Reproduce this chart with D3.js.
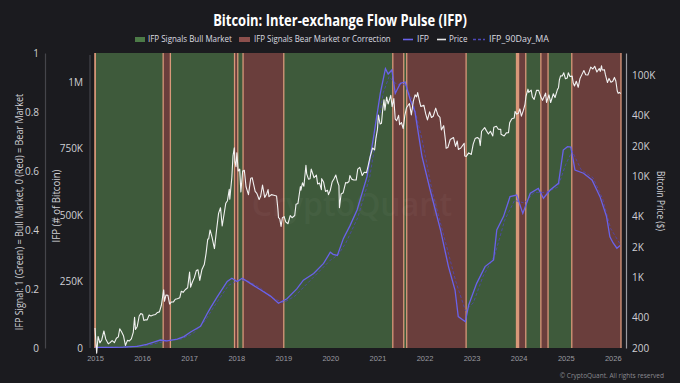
<!DOCTYPE html>
<html><head><meta charset="utf-8">
<script src="https://cdn.jsdelivr.net/npm/d3@7"></script>
<style>
html,body{margin:0;padding:0;background:#1b1b1f;}
svg{display:block;font-family:"Open Sans","Noto Sans",sans-serif;}
</style></head><body>
<svg id="c" width="680" height="383"></svg>
<script>
// ---------- DATA ----------
const years = [2015,2016,2017,2018,2019,2020,2021,2022,2023,2024,2025,2026];
const signalDates = ['2015-01-01','2015-01-03','2016-06-13','2016-08-08','2017-12-19','2018-01-13','2018-02-23','2019-01-05','2021-04-30','2021-07-24','2021-08-16','2022-11-20','2023-12-16','2023-12-24','2024-01-01','2024-02-26','2024-06-22','2024-08-17','2025-02-17'];
const signalValues = [0,1,0,1,0,1,0,1,0,1,0,1,0,1,0,1,0,1,0];
const signalEnd = '2026-03-06';

const priceSeries = [
['2015-01-01',315],['2015-01-14',178],['2015-01-25',260],['2015-02-08',225],['2015-02-22',240],['2015-03-11',295],['2015-03-25',246],['2015-04-14',220],['2015-04-28',226],['2015-05-14',237],['2015-06-01',226],['2015-06-16',250],['2015-07-01',258],['2015-07-12',310],['2015-07-26',290],['2015-08-10',265],['2015-08-25',212],['2015-09-10',238],['2015-09-25',235],['2015-10-10',246],['2015-10-25',285],['2015-11-04',403],['2015-11-11',305],['2015-11-25',327],['2015-12-10',415],['2015-12-22',438],
['2016-01-05',432],['2016-01-15',375],['2016-01-28',380],['2016-02-10',380],['2016-02-25',424],['2016-03-10',415],['2016-03-28',424],['2016-04-15',430],['2016-04-30',450],['2016-05-15',456],['2016-05-30',530],['2016-06-17',755],['2016-06-23',580],['2016-07-05',670],['2016-07-20',665],['2016-08-02',545],['2016-08-15',570],['2016-09-01',572],['2016-09-15',608],['2016-10-01',615],['2016-10-20',630],['2016-11-01',730],['2016-11-15',712],['2016-12-01',755],['2016-12-20',790],
['2017-01-04',1130],['2017-01-12',800],['2017-01-25',895],['2017-02-10',995],['2017-02-25',1170],['2017-03-10',1190],['2017-03-24',935],['2017-04-10',1200],['2017-04-28',1340],['2017-05-12',1730],['2017-05-25',2400],['2017-06-01',2400],['2017-06-12',2950],['2017-06-27',2500],['2017-07-16',1930],['2017-07-31',2850],['2017-08-17',4300],['2017-09-01',4900],['2017-09-14',3230],['2017-09-30',4340],['2017-10-12',5430],['2017-10-25',5750],['2017-11-08',7450],['2017-11-12',5950],['2017-11-28',9800],['2017-12-07',16000],['2017-12-17',19200],['2017-12-22',14000],['2017-12-30',12500],
['2018-01-06',17100],['2018-01-16',11300],['2018-01-28',11800],['2018-02-06',7000],['2018-02-20',11300],['2018-03-05',11500],['2018-03-18',7900],['2018-04-06',6600],['2018-04-24',9600],['2018-05-05',9700],['2018-05-28',7100],['2018-06-10',6800],['2018-06-28',5900],['2018-07-10',6400],['2018-07-24',8200],['2018-08-10',6200],['2018-08-25',6700],['2018-09-05',7400],['2018-09-12',6300],['2018-10-01',6600],['2018-10-20',6500],['2018-11-10',6400],['2018-11-20',4800],['2018-11-25',3900],['2018-12-05',3800],['2018-12-15',3200],['2018-12-25',3900],
['2019-01-08',4000],['2019-01-20',3550],['2019-02-07',3400],['2019-02-24',4100],['2019-03-10',3900],['2019-03-31',4100],['2019-04-10',5300],['2019-04-25',5400],['2019-05-14',7950],['2019-05-18',7300],['2019-05-30',8650],['2019-06-10',8000],['2019-06-26',12900],['2019-07-02',10600],['2019-07-16',9400],['2019-07-28',9500],['2019-08-06',11800],['2019-08-28',9700],['2019-09-15',10300],['2019-09-25',8400],['2019-10-10',8600],['2019-10-24',7400],['2019-10-26',9500],['2019-11-10',8800],['2019-11-25',7100],['2019-12-10',7300],['2019-12-18',6600],['2019-12-31',7200],
['2020-01-15',8800],['2020-01-30',9500],['2020-02-13',10300],['2020-02-28',8700],['2020-03-08',8100],['2020-03-12',4900],['2020-03-25',6700],['2020-04-10',6900],['2020-04-29',8700],['2020-05-10',8600],['2020-05-25',8900],['2020-06-01',10200],['2020-06-15',9400],['2020-07-01',9200],['2020-07-20',9200],['2020-08-01',11800],['2020-08-17',12300],['2020-09-05',10200],['2020-09-20',11000],['2020-10-08',10900],['2020-10-21',12800],['2020-11-05',15600],['2020-11-24',19100],['2020-12-10',18300],['2020-12-20',23800],['2021-01-01',29300],
['2021-01-08',40500],['2021-01-22',33000],['2021-02-01',33500],['2021-02-10',44800],['2021-02-21',57500],['2021-02-28',45200],['2021-03-13',61200],['2021-03-25',52300],['2021-04-14',63500],['2021-04-25',49000],['2021-05-08',58900],['2021-05-19',37000],['2021-05-30',35700],['2021-06-14',40200],['2021-06-22',32500],['2021-07-06',34200],['2021-07-20',29800],['2021-08-01',39800],['2021-08-14',47800],['2021-09-06',52700],['2021-09-21',40700],['2021-10-06',55300],['2021-10-20',64300],['2021-11-01',61300],['2021-11-09',67600],['2021-11-26',53600],['2021-12-04',49200],['2021-12-27',50700],
['2022-01-10',41800],['2022-01-24',36300],['2022-02-10',43600],['2022-02-24',38300],['2022-03-10',39400],['2022-03-29',47400],['2022-04-15',40500],['2022-05-01',38500],['2022-05-12',28900],['2022-05-30',31800],['2022-06-13',22500],['2022-06-18',19000],['2022-07-01',19300],['2022-07-20',23200],['2022-08-14',24300],['2022-08-30',19800],['2022-09-12',22400],['2022-09-21',18500],['2022-10-10',19100],['2022-11-05',21300],['2022-11-09',15900],['2022-11-21',15800],['2022-12-10',17100],['2022-12-30',16500],
['2023-01-14',20900],['2023-01-29',23700],['2023-02-15',24300],['2023-03-01',23600],['2023-03-10',20200],['2023-03-20',28000],['2023-04-13',30400],['2023-04-26',28400],['2023-05-12',26300],['2023-05-28',28000],['2023-06-15',25100],['2023-06-23',30600],['2023-07-13',31400],['2023-07-28',29300],['2023-08-16',29200],['2023-08-18',26100],['2023-09-11',25100],['2023-09-28',27000],['2023-10-15',27100],['2023-10-24',33900],['2023-11-10',37300],['2023-11-28',37800],['2023-12-05',44000],['2023-12-18',41400],['2023-12-31',42300],
['2024-01-11',46600],['2024-01-23',39500],['2024-02-08',45300],['2024-02-20',51800],['2024-02-28',62500],['2024-03-14',73100],['2024-03-20',67800],['2024-04-08',71600],['2024-04-17',61300],['2024-05-01',57800],['2024-05-20',71400],['2024-06-05',71100],['2024-06-24',60300],['2024-07-05',56700],['2024-07-29',66800],['2024-08-05',54000],['2024-08-24',64100],['2024-09-06',53900],['2024-09-27',65800],['2024-10-10',60300],['2024-10-29',72700],['2024-11-06',75600],['2024-11-13',90500],['2024-11-22',98900],['2024-12-05',98800],['2024-12-17',106100],['2024-12-30',92600],
['2025-01-13',94500],['2025-01-21',106100],['2025-02-03',97700],['2025-02-20',98300],['2025-02-28',84400],['2025-03-10',78500],['2025-03-24',87500],['2025-04-08',76300],['2025-04-22',93400],['2025-05-08',103000],['2025-05-22',111700],['2025-06-05',101500],['2025-06-22',101000],['2025-07-03',109600],['2025-07-14',121000],['2025-07-31',115800],['2025-08-14',123300],['2025-08-31',108200],['2025-09-18',117000],['2025-09-26',109600],['2025-10-06',124700],['2025-10-11',113000],['2025-10-28',114000],['2025-11-05',101600],['2025-11-21',85000],['2025-12-03',93400],['2025-12-18',85500],['2026-01-01',87500],['2026-01-14',95500],['2026-01-25',88000],['2026-02-05',70000],['2026-02-12',66500],['2026-02-22',68000],['2026-03-03',66000]
];

const ifpSeries = [
['2015-01-04',2000],['2015-05-01',2000],['2015-08-07',3000],['2015-11-25',6000],['2016-02-06',14000],['2016-04-01',22000],['2016-05-22',30000],['2016-07-12',27000],['2016-10-01',33000],['2016-11-21',43000],
['2017-01-12',60000],['2017-03-30',82000],['2017-05-19',128000],['2017-06-14',150000],['2017-08-04',190000],['2017-10-23',250000],['2017-11-28',262000],['2018-01-08',250000],['2018-02-17',262000],['2018-04-20',243000],['2018-07-05',220000],['2018-09-24',195000],['2018-11-25',168000],
['2019-01-30',185000],['2019-04-16',222000],['2019-06-06',255000],['2019-08-25',280000],['2019-11-10',318000],['2020-01-01',360000],['2020-01-23',352000],['2020-02-25',348000],['2020-04-12',412000],['2020-06-02',460000],['2020-07-27',519000],['2020-10-12',644000],['2020-12-02',794000],
['2021-01-23',957000],['2021-03-04',1050000],['2021-03-25',1030000],['2021-04-23',1045000],['2021-05-19',957000],['2021-06-28',995000],['2021-08-04',1000000],['2021-09-13',932000],['2021-10-19',888000],['2021-12-13',719000],
['2022-02-14',594000],['2022-05-05',444000],['2022-07-06',306000],['2022-08-26',218000],['2022-09-20',118000],['2022-11-14',99000],['2022-12-10',162000],
['2023-02-10',243000],['2023-04-16',306000],['2023-06-21',331000],['2023-07-16',444000],['2023-09-06',494000],['2023-10-27',569000],['2023-12-17',575000],
['2024-02-03',506000],['2024-04-01',582000],['2024-06-02',600000],['2024-07-12',563000],['2024-09-02',594000],['2024-11-06',619000],['2024-12-13',744000],
['2025-01-15',757000],['2025-02-10',755000],['2025-03-14',669000],['2025-05-19',657000],['2025-07-24',632000],['2025-09-24',569000],['2025-11-14',494000],['2025-12-10',418000],['2026-01-04',395000],['2026-02-02',375000],['2026-02-28',385000]
];

const maSeries = [
['2015-01-01',2000],['2015-09-01',3000],['2016-03-01',12000],['2016-07-01',26000],['2016-11-01',34000],['2017-02-01',55000],['2017-05-01',100000],['2017-08-01',170000],['2017-11-01',235000],['2018-01-15',255000],['2018-04-01',252000],['2018-07-01',228000],['2018-10-01',190000],
['2019-01-01',170000],['2019-04-01',195000],['2019-07-01',240000],['2019-10-01',285000],['2020-01-01',330000],['2020-03-01',350000],['2020-05-01',395000],['2020-08-01',490000],['2020-11-01',640000],['2021-01-01',820000],['2021-02-15',960000],['2021-04-01',1020000],['2021-06-01',990000],['2021-08-01',990000],['2021-10-01',930000],['2021-12-15',780000],
['2022-03-01',590000],['2022-06-01',420000],['2022-09-01',250000],['2022-11-15',140000],['2023-01-15',170000],['2023-04-01',270000],['2023-07-01',350000],['2023-09-15',480000],['2023-12-01',555000],['2024-02-15',545000],['2024-05-01',585000],['2024-08-01',585000],['2024-11-01',605000],
['2025-01-01',690000],['2025-02-20',740000],['2025-05-01',670000],['2025-08-01',640000],['2025-10-15',560000],['2025-12-15',450000],['2026-02-28',390000]
];

const signalTicks = [0,0.2,0.4,0.6,0.8,1];
const signalTickLabels = ['0','0.2','0.4','0.6','0.8','1'];
const ifpTicks = [0,250000,500000,750000,1000000];
const ifpTickLabels = ['0','250K','500K','750K','1M'];
const priceTicks = [200,400,1000,2000,4000,10000,20000,40000,100000];
const priceTickLabels = ['200','400','1K','2K','4K','10K','20K','40K','100K'];

// ---------- DRAW ----------
const svg = d3.select('#c');
const parse = d3.timeParse('%Y-%m-%d');
const L = 95, R = 621, T = 53, B = 348;
const GREEN = '#3e5a3b', RED = '#6a3e3c', EDGE = '#d9987a';

const x = d3.scaleTime().domain([parse('2015-01-01'), parse(signalEnd)]).range([L, R]);
const ySig = d3.scaleLinear().domain([0,1]).range([B,T]);
const yIfp = d3.scaleLinear().domain([0,1109000]).range([B,T]);
const yPrice = d3.scaleLog().domain([200,166700]).range([B,T]);

svg.append('rect').attr('width',680).attr('height',383).attr('fill','#1b1b1f');

// bands
const segs = signalDates.map((d,i)=>({s:parse(d), e:parse(i<signalDates.length-1?signalDates[i+1]:signalEnd), v:signalValues[i]}));
const gB = svg.append('g');
gB.selectAll('rect').data(segs).join('rect')
  .attr('x',d=>x(d.s)).attr('width',d=>Math.max(0.5,x(d.e)-x(d.s)))
  .attr('y',ySig(1)).attr('height',ySig(0)-ySig(1))
  .attr('fill',d=>d.v===1?GREEN:RED);
const edges = [];
segs.forEach(d=>{ if(d.v===0){ edges.push(d.s); edges.push(d.e);} });
gB.selectAll('line').data(edges).join('line')
  .attr('x1',d=>x(d)).attr('x2',d=>x(d)).attr('y1',ySig(1)).attr('y2',ySig(0))
  .attr('stroke',EDGE).attr('stroke-width',1.3);

// watermark
svg.append('text').attr('x',352).attr('y',216).attr('text-anchor','middle')
  .attr('font-size',32).attr('font-weight',600).attr('fill','#ffffff').attr('opacity',0.03)
  .text('CryptoQuant');

// lines
const lineMa = d3.line().x(d=>x(parse(d[0]))).y(d=>yIfp(d[1]));
svg.append('path').datum(maSeries).attr('d',lineMa).attr('fill','none')
  .attr('stroke','#4d47b8').attr('stroke-width',1).attr('stroke-dasharray','3,2').attr('opacity',0.8);
const lineIfp = d3.line().x(d=>x(parse(d[0]))).y(d=>yIfp(d[1]));
svg.append('path').datum(ifpSeries).attr('d',lineIfp).attr('fill','none')
  .attr('stroke','#6a62ea').attr('stroke-width',1.3);
const linePrice = d3.line().x(d=>x(parse(d[0]))).y(d=>yPrice(d[1]));
svg.append('path').datum(priceSeries).attr('d',linePrice).attr('fill','none')
  .attr('stroke','#f2f2f2').attr('stroke-width',1.1).attr('stroke-linejoin','round');

// axes
function styleAxis(g, lineColor){
  g.select('.domain').attr('stroke',lineColor).attr('stroke-width',1.2);
  g.selectAll('text').attr('fill','#cfcfd4').attr('font-size',10).attr('font-family','"Open Sans",sans-serif');
}
const aSig = svg.append('g').attr('transform',`translate(45,0)`)
  .call(d3.axisLeft(ySig).tickValues(signalTicks).tickFormat((d,i)=>signalTickLabels[i]).tickSize(0).tickSizeOuter(0).tickPadding(6));
styleAxis(aSig,'#45454b');
const aIfp = svg.append('g').attr('transform',`translate(90,0)`)
  .call(d3.axisLeft(yIfp).tickValues(ifpTicks).tickFormat((d,i)=>ifpTickLabels[i]).tickSize(0).tickSizeOuter(0).tickPadding(7));
styleAxis(aIfp,'#45454b');
aIfp.select('.domain').attr('d',`M0,${B}V${T+2}`);
const aPrice = svg.append('g').attr('transform',`translate(626,0)`)
  .call(d3.axisRight(yPrice).tickValues(priceTicks).tickFormat((d,i)=>priceTickLabels[i]).tickSize(0).tickSizeOuter(0).tickPadding(6));
styleAxis(aPrice,'#9a9aa0');
const aX = svg.append('g').attr('transform',`translate(0,${B})`)
  .call(d3.axisBottom(x).tickValues(years.map(y=>new Date(y,0,1))).tickFormat(d=>d.getFullYear()).tickSize(0).tickPadding(8));
aX.select('.domain').remove();
aX.selectAll('text').attr('fill','#9a9aa0').attr('font-size',7.5);

// text helpers: squeeze horizontally with a transform so the box matches the drawn width
function squeeze(g, tx, ty, w, rot){
  const t = g.select('text');
  const n = t.node().getComputedTextLength();
  const s = n > w ? w / n : 1;
  g.attr('transform', `translate(${tx},${ty})` + (rot ? ` rotate(${rot})` : '') + ` scale(${s},1)`);
  return g;
}
function addText(parent, str, size, color, anchor, weight){
  const g = parent.append('g');
  g.append('text').attr('x',0).attr('y',0).attr('text-anchor',anchor||'start')
    .attr('font-size',size).attr('font-weight',weight||400).attr('fill',color).text(str);
  return g;
}

// axis titles
squeeze(addText(svg,'IFP Signal: 1 (Green) = Bull Market, 0 (Red) = Bear Market',10,'#cfcfd4','middle'),23,212,237,-90);
squeeze(addText(svg,'IFP (# of Bitcoin)',10,'#cfcfd4','middle'),60,206,73,-90);
squeeze(addText(svg,'Bitcoin Price ($)',10,'#cfcfd4','middle'),657,201,60,90);

// title
squeeze(addText(svg,'Bitcoin: Inter-exchange Flow Pulse (IFP)',16.5,'#ffffff','middle',700),340,26,254);

// legend
const lg = svg.append('g');
const legendY = 42;
lg.append('rect').attr('x',135).attr('y',37).attr('width',10).attr('height',5).attr('fill','#4c7a47');
squeeze(addText(lg,'IFP Signals Bull Market',9.5,'#dcdce0'),148,legendY,84);
lg.append('rect').attr('x',239).attr('y',37).attr('width',11).attr('height',5).attr('fill','#8c4f4c');
squeeze(addText(lg,'IFP Signals Bear Market or Correction',9.5,'#dcdce0'),254,legendY,137);
lg.append('line').attr('x1',403).attr('x2',413).attr('y1',39.5).attr('y2',39.5).attr('stroke','#6a62ea').attr('stroke-width',1.6);
squeeze(addText(lg,'IFP',9.5,'#dcdce0'),417,legendY,12);
lg.append('line').attr('x1',437).attr('x2',446).attr('y1',39.5).attr('y2',39.5).attr('stroke','#e8e8e8').attr('stroke-width',1.6);
squeeze(addText(lg,'Price',9.5,'#dcdce0'),449,legendY,18.5);
lg.append('line').attr('x1',473).attr('x2',485).attr('y1',39.5).attr('y2',39.5).attr('stroke','#4d47b8').attr('stroke-width',1.4).attr('stroke-dasharray','3,2');
squeeze(addText(lg,'IFP_90Day_MA',9.5,'#dcdce0'),489,legendY,60);

// copyright
svg.append('text').attr('x',664).attr('y',378).attr('text-anchor','end').attr('font-size',6.5)
  .attr('fill','#8a8a90').text('© CryptoQuant. All rights reserved');
</script>
</body></html>
